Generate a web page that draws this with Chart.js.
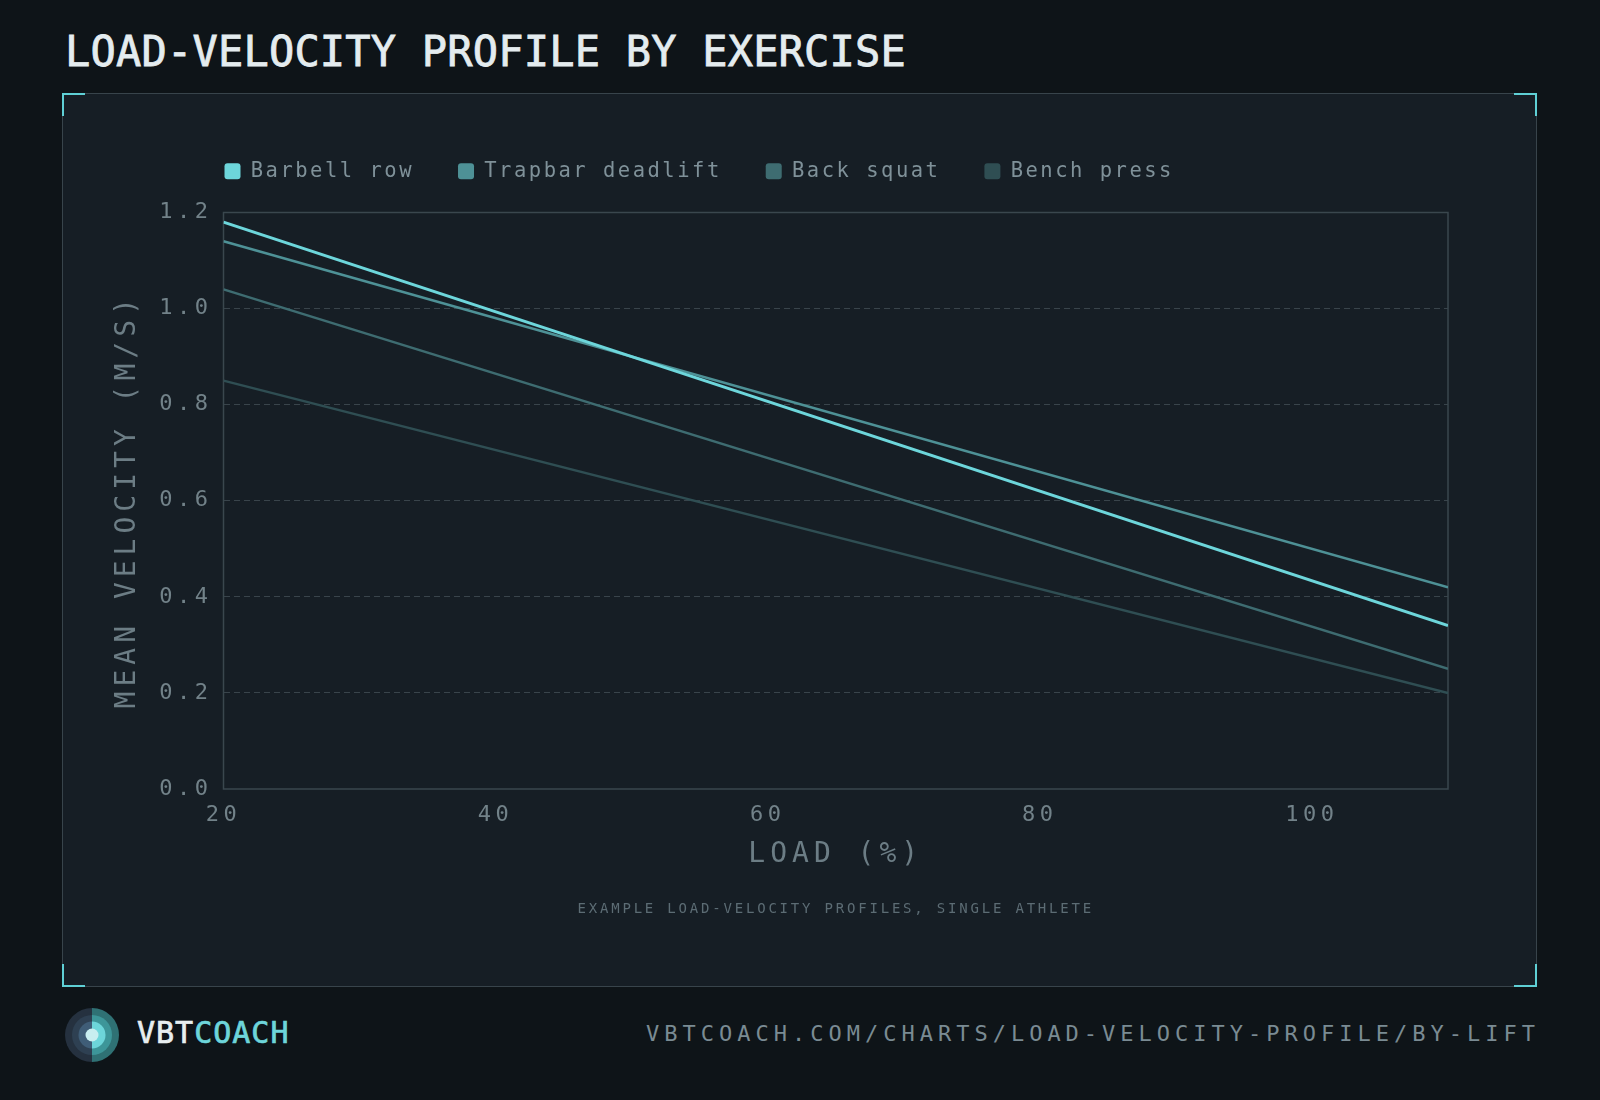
<!DOCTYPE html>
<html>
<head>
<meta charset="utf-8">
<script src="https://cdn.jsdelivr.net/npm/chart.js@4.4.1/dist/chart.umd.min.js"></script>
<style>
  html, body { margin: 0; padding: 0; }
  body { width: 1600px; height: 1100px; background: #0e1418; position: relative; overflow: hidden;
         font-family: 'DejaVu Sans Mono', monospace; }
  #title { position: absolute; left: 65px; top: 31px; font-size: 42px; line-height: 1; font-weight: normal;
           -webkit-text-stroke: 0.8px #e4ecef; color: #e4ecef; letter-spacing: 0.2px; white-space: nowrap; }
  #panel { position: absolute; left: 62px; top: 93px; width: 1475px; height: 894px; box-sizing: border-box;
           background: #161e25; border: 1.5px solid #38444b; }
  .corner { position: absolute; width: 23px; height: 23px; box-sizing: border-box; border: 0 solid #5fd0d5; }
  .tl { left: 62px; top: 93px; border-top-width: 2.5px; border-left-width: 2.5px; }
  .tr { left: 1514px; top: 93px; border-top-width: 2.5px; border-right-width: 2.5px; }
  .bl { left: 62px; top: 964px; border-bottom-width: 2.5px; border-left-width: 2.5px; }
  .br { left: 1514px; top: 964px; border-bottom-width: 2.5px; border-right-width: 2.5px; }
  #chart { position: absolute; left: 64px; top: 95px; }
  #logo { position: absolute; left: 64px; top: 1007px; }
  #brand { position: absolute; left: 137px; top: 1018px; font-size: 30px; line-height: 1; font-weight: normal;
           -webkit-text-stroke: 0.7px #e8eef0; color: #e8eef0; letter-spacing: 1px; }
  #brand span { color: #6dd5da; -webkit-text-stroke: 0.7px #6dd5da; }
  #url { position: absolute; right: 60px; top: 1023px; font-size: 22px; line-height: 1; color: #7a8b93;
         letter-spacing: 5px; white-space: nowrap; }
</style>
</head>
<body>
<div id="title">LOAD-VELOCITY PROFILE BY EXERCISE</div>
<div id="panel"></div>
<div class="corner tl"></div><div class="corner tr"></div>
<div class="corner bl"></div><div class="corner br"></div>
<canvas id="chart" width="1471" height="890"></canvas>

<svg id="logo" width="56" height="56" viewBox="0 0 56 56">
  <path d="M28 1 A27 27 0 0 0 28 55 Z" fill="#25313f"/>
  <path d="M28 1 A27 27 0 0 1 28 55 Z" fill="#2f7174"/>
  <path d="M28 8 A20 20 0 0 0 28 48 Z" fill="#2e4052"/>
  <path d="M28 8 A20 20 0 0 1 28 48 Z" fill="#3d9699"/>
  <path d="M28 14.5 A13.5 13.5 0 0 0 28 41.5 Z" fill="#3f5d77"/>
  <path d="M28 14.5 A13.5 13.5 0 0 1 28 41.5 Z" fill="#6dd6da"/>
  <circle cx="28" cy="28" r="6.5" fill="#c8eef0"/>
</svg>
<div id="brand">VBT<span>COACH</span></div>
<div id="url">VBTCOACH.COM/CHARTS/LOAD-VELOCITY-PROFILE/BY-LIFT</div>

<script>
// load (% 1RM) at the two ends of each fitted profile
const loads = [20, 110];

const exercises = ["Barbell row", "Trapbar deadlift", "Back squat", "Bench press"];
const barbellRow = [1.18, 0.34];
const trapbarDeadlift = [1.14, 0.42];
const backSquat = [1.04, 0.25];
const benchPress = [0.85, 0.20];

const xTicks = [20, 40, 60, 80, 100];
const yTicks = [0.0, 0.2, 0.4, 0.6, 0.8, 1.0, 1.2];

const seriesValues = [barbellRow, trapbarDeadlift, backSquat, benchPress];
const colors = ["#6dd6db", "#4e9196", "#3e6c71", "#2f4e53"];
const widths = [3, 2.5, 2.5, 2.5];

const FONT = "'DejaVu Sans Mono', monospace";

function withSpacing(obj, name, spacing, ctx) {
    var fn = obj[name];
    obj[name] = function() {
        ctx.save();
        ctx.letterSpacing = spacing;
        fn.apply(this, arguments);
        ctx.restore();
    };
}

// canvas text has letter spacing in this design, and the plot has a full frame
const stylePlugin = {
    id: 'vbtStyle',
    beforeInit(chart) {
        var fit = chart.legend.fit;
        chart.legend.fit = function() {
            fit.call(this);
            this.height += 21;
        };
    },
    beforeUpdate(chart) {
        chart.ctx.letterSpacing = '2.5px';
    },
    afterLayout(chart) {
        chart.legend.left = chart.chartArea.left + 1 - chart.legend.options.labels.padding;
    },
    beforeDraw(chart) {
        if (chart.$spaced) return;
        chart.$spaced = true;
        var ctx = chart.ctx;
        Object.values(chart.scales).forEach(function(s) {
            withSpacing(s, 'drawLabels', '4.5px', ctx);
            withSpacing(s, 'drawTitle', '5px', ctx);
        });
        withSpacing(chart.legend, 'draw', '2.5px', ctx);
        chart.boxes.forEach(function(b) {
            if (b !== chart.legend && !(b instanceof Chart.Scale)) {
                withSpacing(b, 'draw', '2.8px', ctx);
            }
        });
    },
    beforeDatasetsDraw(chart) {
        var a = chart.chartArea, ctx = chart.ctx;
        ctx.save();
        ctx.strokeStyle = '#3a474e';
        ctx.lineWidth = 1.5;
        ctx.strokeRect(a.left, a.top, a.right - a.left, a.bottom - a.top);
        ctx.restore();
    }
};

const datasets = exercises.map(function(name, i) {
    return {
        label: name,
        data: loads.map(function(x, j) { return {x: x, y: seriesValues[i][j]}; }),
        borderColor: colors[i],
        backgroundColor: colors[i],
        borderWidth: widths[i],
        pointRadius: 0,
        fill: false,
        tension: 0
    };
});

new Chart(document.getElementById('chart'), {
    type: 'line',
    data: {datasets: datasets},
    plugins: [stylePlugin],
    options: {
        responsive: false,
        animation: false,
        layout: {padding: {top: 22, left: 46.7, right: 87, bottom: 67.6}},
        plugins: {
            legend: {
                position: 'top',
                align: 'start',
                labels: {
                    color: '#7f9199',
                    font: {family: FONT, size: 20.5},
                    boxWidth: 16,
                    boxHeight: 16,
                    useBorderRadius: true,
                    borderRadius: 3,
                    padding: 44,
                    generateLabels: function(chart) {
                        return Chart.defaults.plugins.legend.labels.generateLabels(chart).map(function(l) {
                            l.lineWidth = 0;
                            l.strokeStyle = 'transparent';
                            return l;
                        });
                    }
                }
            },
            subtitle: {
                display: true,
                position: 'bottom',
                fullSize: false,
                text: 'EXAMPLE LOAD-VELOCITY PROFILES, SINGLE ATHLETE',
                color: '#5c6c74',
                font: {family: FONT, size: 14, weight: 'normal'},
                padding: {top: 28.8, bottom: 0}
            },
            tooltip: {enabled: false}
        },
        scales: {
            x: {
                type: 'linear',
                min: loads[0],
                max: loads[loads.length - 1],
                grid: {display: false},
                border: {display: false},
                afterBuildTicks: function(scale) {
                    scale.ticks = xTicks.map(function(v) { return {value: v}; });
                },
                ticks: {
                    color: '#728289',
                    font: {family: FONT, size: 22},
                    padding: 5,
                    maxRotation: 0,
                    callback: function(v) { return String(v); }
                },
                title: {
                    display: true,
                    text: 'LOAD (%)',
                    color: '#6c7d85',
                    font: {family: FONT, size: 28},
                    padding: 0
                },
                afterFit: function(scale) { scale.height = 82.8; }
            },
            y: {
                min: yTicks[0],
                max: yTicks[yTicks.length - 1],
                afterBuildTicks: function(scale) {
                    scale.ticks = yTicks.map(function(v) { return {value: v}; });
                },
                grid: {
                    drawTicks: false,
                    lineWidth: 1,
                    color: function(c) {
                        if (!c.tick) return 'transparent';
                        var v = c.tick.value;
                        return (v <= 0.001 || v >= 1.19) ? 'transparent' : '#39444b';
                    }
                },
                border: {display: false, dash: [6, 4]},
                ticks: {
                    color: '#728289',
                    font: {family: FONT, size: 22},
                    padding: 11,
                    callback: function(v) { return Number(v).toFixed(1); }
                },
                title: {
                    display: true,
                    text: 'MEAN VELOCITY (M/S)',
                    color: '#6c7d85',
                    font: {family: FONT, size: 28},
                    padding: 0
                },
                afterFit: function(scale) { scale.width = 112.8; }
            }
        }
    }
});
</script>
</body>
</html>
